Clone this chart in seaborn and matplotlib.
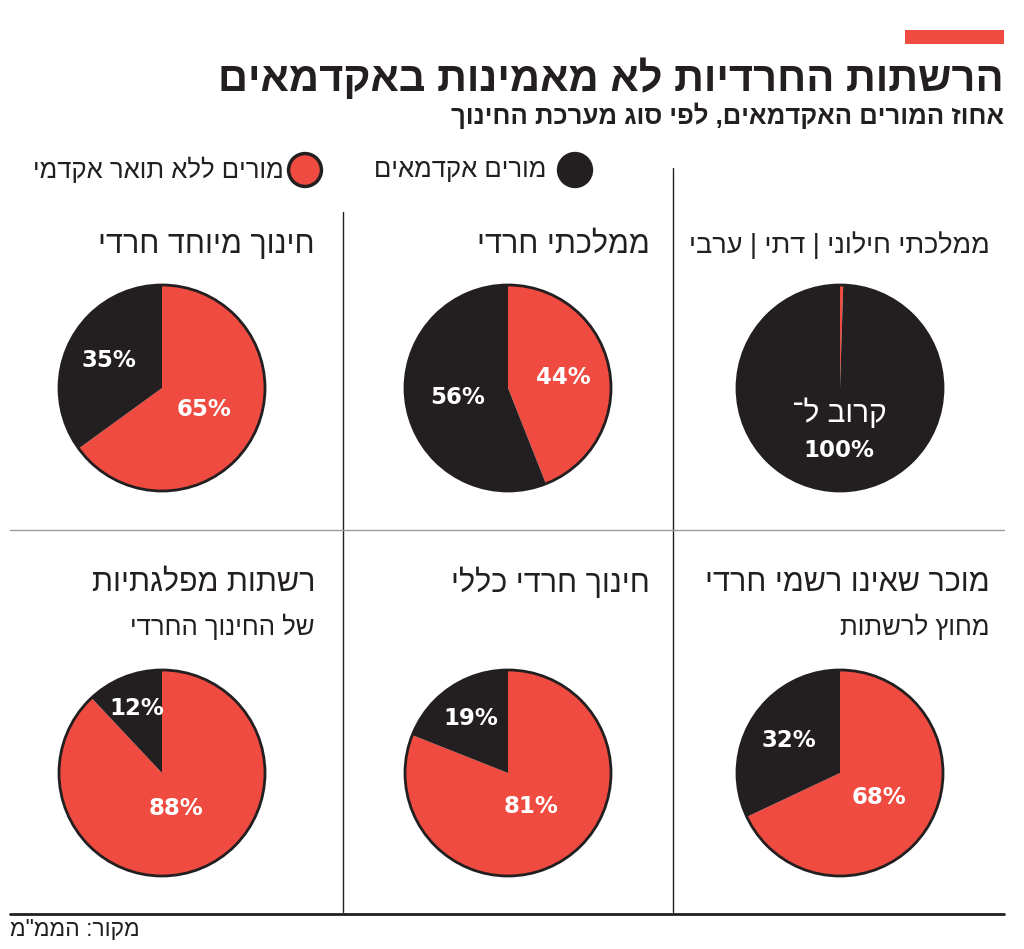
import re
import numpy as np
import matplotlib
matplotlib.use("Agg")
import matplotlib.pyplot as plt
import seaborn as sns
from matplotlib.patches import Circle, Rectangle

# data (logical order, right-to-left text)
title = "הרשתות החרדיות לא מאמינות באקדמאים"
subtitle = "אחוז המורים האקדמאים, לפי סוג מערכת החינוך"
legend_labels = ["מורים אקדמאים", "מורים ללא תואר אקדמי"]
source = "מקור: הממ\"מ"

categories = ["ממלכתי חילוני | דתי | ערבי", "ממלכתי חרדי", "חינוך מיוחד חרדי",
              "מוכר שאינו רשמי חרדי", "חינוך חרדי כללי", "רשתות מפלגתיות"]
category_sub = ["", "", "", "מחוץ לרשתות", "", "של החינוך החרדי"]
academic = [99.5, 56, 35, 32, 19, 12]
non_academic = [0.5, 44, 65, 68, 81, 88]
academic_labels = ["קרוב ל־\n100%", "56%", "35%", "32%", "19%", "12%"]
non_academic_labels = ["", "44%", "65%", "68%", "81%", "88%"]

BLACK = "#231f20"
RED = "#ef4b40"
W, H = 1024, 949

sns.set_theme(style="white")
HEB = ["Liberation Sans Narrow", "Liberation Sans", "DejaVu Sans"]
plt.rcParams["font.family"] = HEB


def vis(s):
    # crude bidi: reverse hebrew runs, keep number runs left-to-right
    tokens = [t for t in re.split(r"([0-9]+%?)", s) if t]
    out = []
    for t in reversed(tokens):
        out.append(t if re.fullmatch(r"[0-9]+%?", t) else t[::-1])
    return "".join(out)


fig = plt.figure(figsize=(W / 100, H / 100), dpi=100)
bg = fig.add_axes([0, 0, 1, 1])
bg.set_xlim(0, W)
bg.set_ylim(H, 0)
bg.axis("off")

# header
bg.add_patch(Rectangle((905, 30), 99, 14, color=RED, lw=0))
bg.text(1004, 79, vis(title), ha="right", va="center", fontsize=30,
        fontweight="bold", color=BLACK, family=HEB)
bg.text(1004, 116, vis(subtitle), ha="right", va="center", fontsize=18.5,
        fontweight="bold", color=BLACK, family=HEB)

# legend
bg.scatter([575, 305], [170, 170], s=560, c=[BLACK, RED], edgecolors=BLACK,
           linewidths=2.5, zorder=3)
bg.text(546, 170, vis(legend_labels[0]), ha="right", va="center", fontsize=18.5, color=BLACK)
bg.text(284, 170, vis(legend_labels[1]), ha="right", va="center", fontsize=18.5, color=BLACK)

# grid lines
bg.plot([673, 673], [168, 912], color=BLACK, lw=1)
bg.plot([343, 343], [212, 912], color=BLACK, lw=1)
bg.plot([10, 1004], [530, 530], color="#9a9a9a", lw=1)
bg.plot([10, 1004], [914, 914], color=BLACK, lw=2)
bg.text(10, 929, vis(source), ha="left", va="center", fontsize=16.5, color=BLACK)

title_right = [990, 650, 315]
pie_x = [840, 508, 162]
pie_y = [388, 773]
R = 103

for i, cat in enumerate(categories):
    row, col = divmod(i, 3)
    ty = 245 if row == 0 else 583
    bg.text(title_right[col], ty, vis(cat), ha="right", va="center",
            fontsize=19.5 if "|" in cat else 22, color=BLACK)
    if category_sub[i]:
        bg.text(title_right[col], ty + 44, vis(category_sub[i]), ha="right",
                va="center", fontsize=18.5, color=BLACK)

    cx, cy = pie_x[col], pie_y[row]
    ax = fig.add_axes([(cx - R) / W, 1 - (cy + R) / H, 2 * R / W, 2 * R / H])
    vals = [non_academic[i], academic[i]]
    wedges, _ = ax.pie(vals, colors=[RED, BLACK], startangle=90, counterclock=False,
                       radius=1, wedgeprops=dict(linewidth=0))
    ax.add_patch(Circle((0, 0), 1, fill=False, ec=BLACK, lw=2, clip_on=False))
    ax.set_xlim(-1, 1)
    ax.set_ylim(-1, 1)
    ax.set_aspect("equal")
    ax.axis("off")

    for w, v, lab in zip(wedges, vals, [non_academic_labels[i], academic_labels[i]]):
        if not lab:
            continue
        ang = np.deg2rad((w.theta1 + w.theta2) / 2)
        frac = v / sum(vals)
        d = 0.72 - 0.4 * frac
        if "\n" in lab:
            top, bottom = lab.split("\n")
            d = 0.42
            x, y = d * np.cos(ang), d * np.sin(ang)
            ax.text(x, y + 0.18, vis(top), ha="center", va="center", color="white",
                    fontsize=21.5)
            ax.text(x, y - 0.19, vis(bottom), ha="center", va="center", color="white",
                    fontsize=16.5, fontweight="bold", family=["DejaVu Sans"])
        else:
            ax.text(d * np.cos(ang), d * np.sin(ang), lab, ha="center", va="center",
                    color="white", fontsize=16.5, fontweight="bold", family=["DejaVu Sans"])

fig.savefig("out.png", dpi=100, facecolor="white")
